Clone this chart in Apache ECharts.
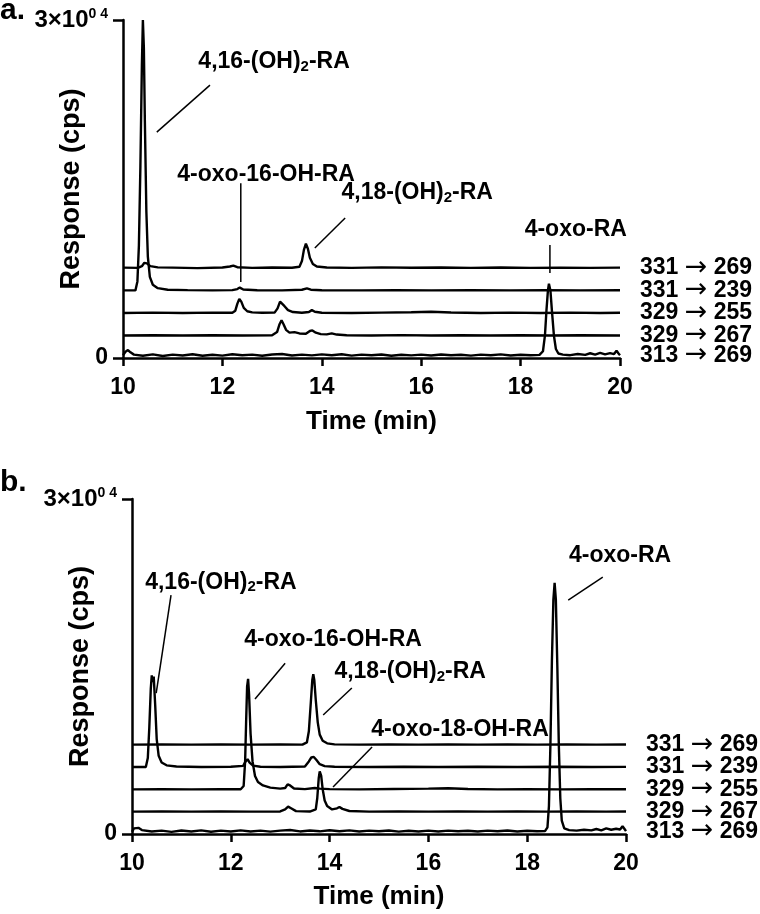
<!DOCTYPE html>
<html>
<head>
<meta charset="utf-8">
<script src="https://cdn.jsdelivr.net/npm/echarts@6/dist/echarts.min.js"></script>
<style>html,body{margin:0;padding:0;background:#fff}#c{width:760px;height:914px}</style>
</head>
<body>
<div id="c"></div>
<script>
// ---------- data ----------
var transitionFrom = ['331', '331', '329', '329', '313'];
var transitionTo = ['269', '239', '255', '267', '269'];
var traceOffsets = [8000, 6000, 4000, 2000, 0];
var xTicks = [10, 12, 14, 16, 18, 20];
var yTicks = [0, 30000];
var panelLetters = ['a.', 'b.'];

// panel a: [time (min), response (cps) above the trace baseline]
var a_331_269 = [[10.0,20],[10.3,0],[10.38,150],[10.43,450],[10.48,400],[10.55,150],[10.7,40],[11.0,20],[11.5,-20],[12.0,30],[12.15,120],[12.22,200],[12.3,60],[12.6,0],[13.0,30],[13.4,10],[13.55,100],[13.6,600],[13.64,1600],[13.68,2150],[13.72,1700],[13.76,900],[13.82,350],[13.9,120],[14.1,30],[14.6,0],[15.2,40],[15.8,10],[16.4,30],[17.0,0],[17.6,30],[18.2,0],[18.8,20],[19.4,0],[20.0,20]];
var a_331_239 = [[10.0,0],[10.25,0],[10.29,800],[10.32,4000],[10.35,11000],[10.38,20000],[10.40,24000],[10.42,21500],[10.44,15000],[10.47,7000],[10.5,3000],[10.54,1200],[10.6,500],[10.7,200],[10.9,60],[11.3,20],[11.8,0],[12.2,20],[12.3,120],[12.35,250],[12.42,80],[12.7,10],[13.2,0],[13.6,60],[13.7,180],[13.78,60],[14.0,10],[14.8,0],[15.5,20],[16.2,0],[17.0,20],[17.8,0],[18.5,20],[19.2,0],[20.0,10]];
var a_329_255 = [[10.0,0],[10.6,30],[11.2,0],[11.8,30],[12.2,20],[12.26,200],[12.3,800],[12.34,1250],[12.38,1000],[12.43,450],[12.5,150],[12.6,50],[12.8,10],[13.05,30],[13.11,400],[13.16,1000],[13.2,1050],[13.25,600],[13.32,250],[13.42,80],[13.6,20],[13.74,80],[13.8,250],[13.86,100],[14.0,20],[14.6,0],[15.2,30],[15.8,60],[16.2,100],[16.6,40],[17.2,0],[17.8,30],[18.4,0],[19.0,30],[19.6,0],[20.0,20]];
var a_329_267 = [[10.0,0],[10.6,20],[11.2,0],[11.8,20],[12.4,0],[13.0,20],[13.1,300],[13.15,1000],[13.19,1350],[13.23,1000],[13.28,500],[13.35,250],[13.45,300],[13.55,180],[13.68,150],[13.76,400],[13.81,450],[13.88,250],[13.98,120],[14.1,100],[14.2,180],[14.3,80],[14.5,20],[15.0,0],[15.6,30],[16.2,0],[16.8,20],[17.4,0],[18.0,20],[18.6,0],[19.2,20],[20.0,0]];
var a_313_269 = [[10.0,250],[10.05,550],[10.1,700],[10.15,500],[10.22,300],[10.4,200],[10.6,320],[10.8,180],[11.0,300],[11.2,220],[11.4,330],[11.6,200],[11.8,290],[12.0,210],[12.2,330],[12.4,240],[12.6,300],[12.8,200],[13.0,310],[13.2,350],[13.4,220],[13.6,300],[13.8,230],[14.0,320],[14.2,250],[14.4,330],[14.6,210],[14.8,300],[15.0,240],[15.2,310],[15.4,200],[15.6,290],[15.8,230],[16.0,300],[16.2,220],[16.4,310],[16.6,240],[16.8,290],[17.0,210],[17.2,300],[17.4,240],[17.6,320],[17.8,220],[18.0,290],[18.2,240],[18.38,280],[18.45,600],[18.49,2000],[18.52,4200],[18.55,6000],[18.57,6600],[18.6,6000],[18.63,4200],[18.67,2000],[18.71,800],[18.76,400],[18.85,300],[19.0,250],[19.15,350],[19.3,280],[19.4,420],[19.5,300],[19.6,450],[19.7,320],[19.8,430],[19.88,350],[19.93,650],[19.97,400],[20.0,250]];

// panel b
var b_331_269 = [[10.0,0],[10.6,20],[11.2,0],[11.8,20],[12.4,0],[13.0,20],[13.45,0],[13.54,200],[13.58,1200],[13.62,3800],[13.65,5800],[13.67,6300],[13.69,5800],[13.72,4000],[13.76,2000],[13.8,900],[13.86,350],[13.95,120],[14.1,30],[14.6,0],[15.2,20],[15.8,0],[16.4,20],[17.0,0],[17.6,20],[18.2,0],[18.8,20],[19.4,0],[20.0,10]];
var b_331_239 = [[10.0,0],[10.28,0],[10.32,800],[10.35,3500],[10.38,7000],[10.4,8200],[10.42,7600],[10.44,8100],[10.47,5500],[10.5,2500],[10.54,1000],[10.6,400],[10.7,150],[10.9,50],[11.4,0],[12.0,20],[12.25,100],[12.3,500],[12.34,700],[12.38,400],[12.45,120],[12.6,20],[13.0,0],[13.5,50],[13.58,500],[13.63,850],[13.68,900],[13.73,650],[13.8,250],[13.9,80],[14.1,20],[14.8,0],[15.5,20],[16.2,0],[17.0,20],[17.8,0],[18.6,20],[19.3,0],[20.0,10]];
var b_329_255 = [[10.0,0],[10.6,20],[11.2,0],[11.8,20],[12.2,10],[12.26,300],[12.29,2500],[12.31,6000],[12.33,9200],[12.35,9900],[12.37,8500],[12.4,5000],[12.44,2500],[12.49,1200],[12.55,650],[12.65,350],[12.8,150],[13.0,60],[13.1,120],[13.15,450],[13.2,350],[13.28,80],[13.5,20],[13.7,120],[13.8,60],[14.0,20],[14.6,0],[15.3,30],[16.0,60],[16.4,100],[16.8,30],[17.4,0],[18.0,20],[18.7,0],[19.3,20],[20.0,10]];
var b_329_267 = [[10.0,0],[10.6,20],[11.2,0],[11.8,20],[12.4,0],[13.0,20],[13.1,200],[13.16,450],[13.22,300],[13.32,50],[13.6,10],[13.72,200],[13.75,1200],[13.78,3000],[13.8,3600],[13.83,3200],[13.86,2000],[13.9,1000],[13.95,500],[14.05,200],[14.15,300],[14.2,420],[14.26,250],[14.4,60],[14.8,0],[15.4,20],[16.0,0],[16.6,20],[17.2,0],[17.8,20],[18.4,0],[19.0,20],[19.6,0],[20.0,10]];
var b_313_269 = [[10.0,200],[10.04,500],[10.08,600],[10.13,550],[10.2,350],[10.4,220],[10.6,300],[10.8,190],[11.0,310],[11.2,230],[11.4,320],[11.6,200],[11.8,300],[12.0,220],[12.2,320],[12.4,230],[12.6,300],[12.8,210],[13.0,300],[13.2,360],[13.4,230],[13.6,310],[13.8,240],[14.0,330],[14.2,250],[14.4,320],[14.6,220],[14.8,300],[15.0,240],[15.2,310],[15.4,210],[15.6,290],[15.8,230],[16.0,300],[16.2,220],[16.4,300],[16.6,240],[16.8,290],[17.0,220],[17.2,300],[17.4,240],[17.6,310],[17.8,230],[18.0,290],[18.2,240],[18.36,260],[18.41,600],[18.44,2500],[18.47,8000],[18.5,15500],[18.53,21000],[18.555,22500],[18.58,21000],[18.61,15000],[18.64,8000],[18.67,3200],[18.7,1200],[18.75,500],[18.85,350],[19.0,300],[19.15,380],[19.3,320],[19.4,450],[19.5,330],[19.6,500],[19.7,380],[19.8,470],[19.88,400],[19.93,700],[19.97,450],[20.0,250]];

var panelTraces = [
  [a_331_269, a_331_239, a_329_255, a_329_267, a_313_269],
  [b_331_269, b_331_239, b_329_255, b_329_267, b_313_269]
];

// peak annotations: [panel, label, subscript, label tail, [textTime, textResp], [lineStart], [lineEnd]]
var annotations = [
  [0, '4,16-(OH)', '2', '-RA', [13.04, 26260], [11.75, 24220], [10.68, 20050]],
  [0, '4-oxo-16-OH-RA', '', '', [12.88, 16230], [12.37, 15520], [12.37, 6740]],
  [0, '4,18-(OH)', '2', '-RA', [15.92, 14640], [14.47, 12420], [13.86, 9760]],
  [0, '4-oxo-RA', '', '', [19.11, 11350], [18.59, 10020], [18.59, 7540]],
  [1, '4,16-(OH)', '2', '-RA', [11.80, 22550], [10.79, 21390], [10.49, 12620]],
  [1, '4-oxo-16-OH-RA', '', '', [14.07, 17360], [13.10, 15300], [12.49, 12080]],
  [1, '4,18-(OH)', '2', '-RA', [15.63, 14500], [14.45, 13070], [13.87, 10650]],
  [1, '4-oxo-18-OH-RA', '', '', [16.64, 9310], [14.86, 7790], [14.07, 4210]],
  [1, '4-oxo-RA', '', '', [19.88, 24970], [19.53, 23000], [18.83, 20940]]
];

// ---------- chart ----------
var FONT = '"Liberation Sans", Arial, Helvetica, sans-serif';
var chart = echarts.init(document.getElementById('c'), null, {renderer: 'canvas'});

var grids = [
  {left: 123, right: 140, top: 20, height: 338, outerBoundsMode: 'none'},
  {left: 132, right: 134, top: 499, height: 335, outerBoundsMode: 'none'}
];
var nameGapsX = [51, 50];

function xAxisFor(i) {
  return {
    type: 'value', gridIndex: i, min: xTicks[0], max: xTicks[xTicks.length - 1], interval: xTicks[1] - xTicks[0],
    name: 'Time (min)', nameLocation: 'middle', nameGap: nameGapsX[i], nameMoveOverlap: false,
    nameTextStyle: {fontFamily: FONT, fontSize: 26, fontWeight: 'bold', color: '#000'},
    axisLine: {show: true, onZero: false, lineStyle: {color: '#000', width: 2.5}},
    axisTick: {show: true, inside: false, length: 8, lineStyle: {color: '#000', width: 2.5}},
    axisLabel: {fontFamily: FONT, fontSize: 23, fontWeight: 'bold', color: '#000', margin: 18},
    splitLine: {show: false}
  };
}
function yAxisFor(i) {
  return {
    type: 'value', gridIndex: i, min: yTicks[0], max: yTicks[1], interval: yTicks[1] - yTicks[0],
    name: 'Response (cps)', nameLocation: 'middle', nameGap: 38, nameRotate: 90, nameMoveOverlap: false,
    nameTextStyle: {fontFamily: FONT, fontSize: 27, fontWeight: 'bold', color: '#000'},
    axisLine: {show: true, onZero: false, lineStyle: {color: '#000', width: 2.5}},
    axisTick: {show: true, inside: false, length: 10, lineStyle: {color: '#000', width: 2.5}},
    axisLabel: {
      fontFamily: FONT, fontSize: 23, fontWeight: 'bold', color: '#000', margin: 15,
      formatter: function (v) { return v === 0 ? '{z|0}' : '{m|3\u00d710}{s|0 4}'; },
      rich: {
        z: {fontFamily: FONT, fontSize: 23, fontWeight: 'bold', color: '#000'},
        m: {fontFamily: FONT, fontSize: 24, fontWeight: 'bold', color: '#000'},
        s: {fontFamily: FONT, fontSize: 14, fontWeight: 'bold', color: '#000', padding: [0, 0, 12, 0]}
      }
    },
    splitLine: {show: false}
  };
}

var series = [];
panelTraces.forEach(function (traces, p) {
  traces.forEach(function (tr, k) {
    series.push({
      type: 'line', name: transitionFrom[k] + ' \u2192 ' + transitionTo[k], xAxisIndex: p, yAxisIndex: p,
      data: tr.map(function (d) { return [d[0], d[1] + traceOffsets[k]]; }),
      showSymbol: false, symbol: 'none', smooth: false, clip: true,
      lineStyle: {color: '#000', width: 2.4},
      endLabel: {
        show: true, distance: 20,
        formatter: function () { return '{d|' + transitionFrom[k] + ' }{r|\u2192}{d| ' + transitionTo[k] + '}'; },
        rich: {
          d: {fontFamily: FONT, fontSize: 23, fontWeight: 'bold', color: '#000'},
          r: {fontFamily: '"DejaVu Sans", sans-serif', fontSize: 27, color: '#000', padding: [0, 0, 0, 0]}
        }
      },
      emphasis: {disabled: true},
      z: 3
    });
  });
});

chart.setOption({
  animation: false,
  backgroundColor: '#fff',
  grid: grids,
  xAxis: [xAxisFor(0), xAxisFor(1)],
  yAxis: [yAxisFor(0), yAxisFor(1)],
  series: series
});

// annotations placed via the axes' scales
var richStyle = {
  n: {fontFamily: FONT, fontSize: 23, fontWeight: 'bold', color: '#000'},
  s: {fontFamily: FONT, fontSize: 15, fontWeight: 'bold', color: '#000', padding: [9, 0, 0, 0]}
};
var graphics = [];
annotations.forEach(function (a) {
  var g = {xAxisIndex: a[0], yAxisIndex: a[0]};
  var tp = chart.convertToPixel(g, a[4]);
  var p1 = chart.convertToPixel(g, a[5]);
  var p2 = chart.convertToPixel(g, a[6]);
  var txt = a[2] ? '{n|' + a[1] + '}{s|' + a[2] + '}{n|' + a[3] + '}' : '{n|' + a[1] + '}';
  graphics.push({
    type: 'text', z: 10,
    style: {text: txt, x: tp[0], y: tp[1], align: 'center', verticalAlign: 'middle', rich: richStyle,
      fontFamily: FONT, fontSize: 23, fontWeight: 'bold', fill: '#000'}
  });
  graphics.push({
    type: 'line', z: 10,
    shape: {x1: p1[0], y1: p1[1], x2: p2[0], y2: p2[1]},
    style: {stroke: '#000', lineWidth: 1.5}
  });
});
var letterPos = [[0, -4], [0, 468]];
panelLetters.forEach(function (t, i) {
  graphics.push({type: 'text', z: 10, style: {text: t, x: letterPos[i][0], y: letterPos[i][1],
    fontFamily: FONT, fontSize: 30, fontWeight: 'bold', fill: '#000'}});
});
chart.setOption({graphic: graphics});
</script>
</body>
</html>
